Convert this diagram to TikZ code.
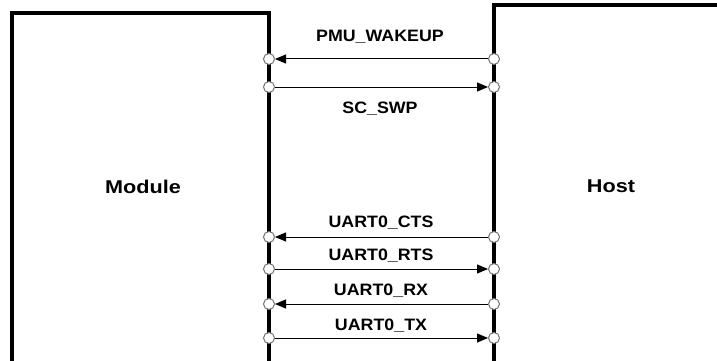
\documentclass[tikz,border=0pt]{standalone}
\usepackage{fontspec}
\setmainfont{Liberation Sans}
\usetikzlibrary{arrows.meta}
\tikzset{
  pin/.style={circle,draw=black!55,fill=white,line width=1pt,inner sep=0pt,minimum size=11pt},
  sig/.style={line width=1pt,-{Triangle[length=11pt,width=9pt]}},
  siglabel/.style={font=\fontsize{16.5}{18}\selectfont\bfseries,xscale=1.08,inner sep=0pt},
  blocklabel/.style={font=\fontsize{18.5}{20}\selectfont\bfseries,xscale=1.17,inner sep=0pt}
}
\begin{document}
\begin{tikzpicture}[x=1pt,y=-1pt]
  \useasboundingbox (0,0) rectangle (717,361);
  % Blocks
  \draw[line width=3.5pt] (12,362) -- (12,13) -- (269,13) -- (269,362);
  \draw[line width=3.5pt] (494,362) -- (494,5) -- (718,5);
  \node[blocklabel] (module) at (143,187) {Module};
  \node[blocklabel] (host) at (611,186) {Host};
  % Pins on the module
  \node[pin] (mwake) at (269,59) {};
  \node[pin] (mswp) at (269,87) {};
  \node[pin] (mcts) at (269,237) {};
  \node[pin] (mrts) at (269,269) {};
  \node[pin] (mrx) at (269,304) {};
  \node[pin] (mtx) at (269,338) {};
  % Pins on the host
  \node[pin] (hwake) at (494,59) {};
  \node[pin] (hswp) at (494,87) {};
  \node[pin] (hcts) at (494,237) {};
  \node[pin] (hrts) at (494,269) {};
  \node[pin] (hrx) at (494,304) {};
  \node[pin] (htx) at (494,338) {};
  % Signals
  \draw[sig] (hwake) -- (mwake);
  \draw[sig] (mswp) -- (hswp);
  \draw[sig] (hcts) -- (mcts);
  \draw[sig] (mrts) -- (hrts);
  \draw[sig] (hrx) -- (mrx);
  \draw[sig] (mtx) -- (htx);
  % Labels
  \node[siglabel] (lwake) at (380,37) {PMU\_WAKEUP};
  \node[siglabel] (lswp) at (380,109) {SC\_SWP};
  \node[siglabel] (lcts) at (381,223) {UART0\_CTS};
  \node[siglabel] (lrts) at (381,256) {UART0\_RTS};
  \node[siglabel] (lrx) at (381,291) {UART0\_RX};
  \node[siglabel] (ltx) at (381,326) {UART0\_TX};
\end{tikzpicture}
\end{document}
